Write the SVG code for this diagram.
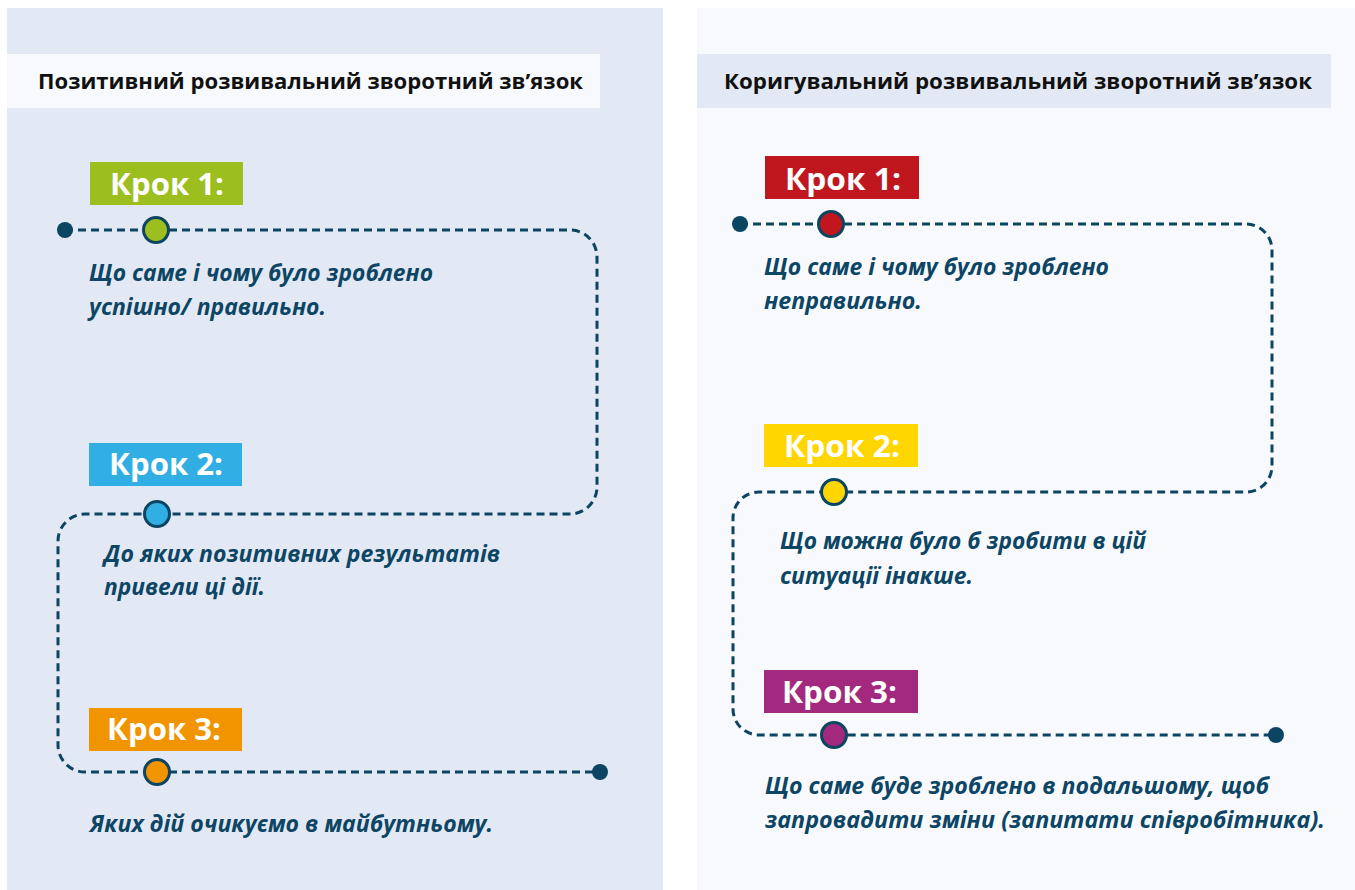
<svg xmlns="http://www.w3.org/2000/svg" width="1355" height="890" viewBox="0 0 1355 890">
<defs>
<style>
.hdr{font-family:"Open Sans","Liberation Sans",sans-serif;font-weight:700;font-size:20.5px;fill:#111111}
.step{font-family:"Open Sans","Liberation Sans",sans-serif;font-weight:700;font-size:31px;fill:#ffffff}
.body{font-family:"Open Sans","Liberation Sans",sans-serif;font-weight:700;font-style:italic;font-size:23px;fill:#0D4564}
.path{fill:none;stroke:#0C4562;stroke-width:3;stroke-dasharray:8 5}
.dot{fill:#0C4562}
.node{stroke:#0C4562;stroke-width:3}
</style>
</defs>
<rect x="0" y="0" width="1355" height="890" fill="#ffffff"/>
<g id="panel-left">
<rect x="7" y="8" width="656" height="882" fill="#E3E9F4"/>
<rect x="7" y="54" width="593" height="54" fill="#F7F9FD"/>
<text class="hdr" x="38" y="89" textLength="545" lengthAdjust="spacingAndGlyphs">Позитивний розвивальний зворотний зв’язок</text>
</g>
<g id="panel-right">
<rect x="697" y="8" width="658" height="882" fill="#F7F9FD"/>
<rect x="697" y="54" width="634" height="54" fill="#E3E9F4"/>
<text class="hdr" x="724" y="89" textLength="588" lengthAdjust="spacingAndGlyphs">Коригувальний розвивальний зворотний зв’язок</text>
</g>
<g id="connectors">
<path class="path" d="M65 230 H570 A27 27 0 0 1 597 257 V487 A27 27 0 0 1 570 514 H85 A27 27 0 0 0 58 541 V745 A27 27 0 0 0 85 772 H600"/>
<circle class="dot" cx="65" cy="230" r="8"/>
<circle class="dot" cx="600" cy="772" r="8"/>
<path class="path" d="M740 224 H1246 A26 26 0 0 1 1272 250 V466 A26 26 0 0 1 1246 492 H759 A26 26 0 0 0 733 518 V709 A26 26 0 0 0 759 735 H1276"/>
<circle class="dot" cx="740" cy="224" r="8"/>
<circle class="dot" cx="1276" cy="735" r="8"/>
</g>
<g id="left-step1">
<rect x="90" y="162" width="153" height="43" fill="#9DBE1F"/>
<text class="step" x="110" y="195" textLength="114" lengthAdjust="spacingAndGlyphs">Крок 1:</text>
<circle class="node" cx="156" cy="230" r="12.5" fill="#9DBE1F"/>
<text class="body" x="89" y="281" textLength="344" lengthAdjust="spacingAndGlyphs">Що саме і чому було зроблено</text>
<text class="body" x="89" y="315" textLength="237" lengthAdjust="spacingAndGlyphs">успішно/ правильно.</text>
</g>
<g id="left-step2">
<rect x="89" y="443" width="153" height="43" fill="#31AEE3"/>
<text class="step" x="109" y="475" textLength="114" lengthAdjust="spacingAndGlyphs">Крок 2:</text>
<circle class="node" cx="157" cy="514" r="12.5" fill="#31AEE3"/>
<text class="body" x="104" y="562" textLength="396" lengthAdjust="spacingAndGlyphs">До яких позитивних результатів</text>
<text class="body" x="104" y="595" textLength="161" lengthAdjust="spacingAndGlyphs">привели ці дії.</text>
</g>
<g id="left-step3">
<rect x="89" y="708" width="153" height="43" fill="#F29400"/>
<text class="step" x="107" y="740" textLength="114" lengthAdjust="spacingAndGlyphs">Крок 3:</text>
<circle class="node" cx="157" cy="772" r="12.5" fill="#F29400"/>
<text class="body" x="90" y="832" textLength="403" lengthAdjust="spacingAndGlyphs">Яких дій очикуємо в майбутньому.</text>
</g>
<g id="right-step1">
<rect x="765" y="156" width="154" height="43" fill="#C0171F"/>
<text class="step" x="785" y="190" textLength="116" lengthAdjust="spacingAndGlyphs">Крок 1:</text>
<circle class="node" cx="831" cy="224" r="12.5" fill="#C0171F"/>
<text class="body" x="764" y="275" textLength="345" lengthAdjust="spacingAndGlyphs">Що саме і чому було зроблено</text>
<text class="body" x="764" y="309" textLength="158" lengthAdjust="spacingAndGlyphs">неправильно.</text>
</g>
<g id="right-step2">
<rect x="764" y="424" width="154" height="43" fill="#FFD600"/>
<text class="step" x="784" y="457" textLength="116" lengthAdjust="spacingAndGlyphs">Крок 2:</text>
<circle class="node" cx="834" cy="492" r="12.5" fill="#FFD600"/>
<text class="body" x="780" y="549" textLength="366" lengthAdjust="spacingAndGlyphs">Що можна було б зробити в цій</text>
<text class="body" x="780" y="584" textLength="193" lengthAdjust="spacingAndGlyphs">ситуації інакше.</text>
</g>
<g id="right-step3">
<rect x="764" y="670" width="154" height="43" fill="#A2297D"/>
<text class="step" x="782" y="703" textLength="115" lengthAdjust="spacingAndGlyphs">Крок 3:</text>
<circle class="node" cx="834" cy="735" r="12.5" fill="#A2297D"/>
<text class="body" x="765" y="794" textLength="504" lengthAdjust="spacingAndGlyphs">Що саме буде зроблено в подальшому, щоб</text>
<text class="body" x="765" y="828" textLength="560" lengthAdjust="spacingAndGlyphs">запровадити зміни (запитати співробітника).</text>
</g>
</svg>
